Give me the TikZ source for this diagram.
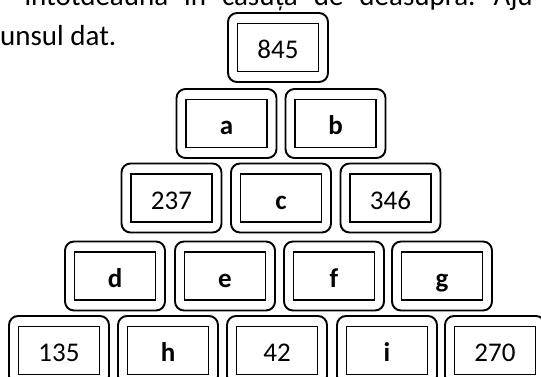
\documentclass[tikz,border=0pt]{standalone}
\usepackage{fontspec}
\setmainfont{Carlito}
\usetikzlibrary{positioning}
\tikzset{
  cell/.style={draw, rectangle, rounded corners=9pt, line width=1.9pt, minimum width=100pt, minimum height=69pt, inner sep=0pt, font=\fontsize{27}{30}\selectfont, text height=24pt, text depth=2pt,
    path picture={\draw[sharp corners, line width=1.9pt] ([shift={(9.5pt,10.5pt)}]path picture bounding box.south west) rectangle ([shift={(-9.5pt,-10.5pt)}]path picture bounding box.north east);}},
  prose/.style={inner sep=0pt, font=\fontsize{29}{35}\selectfont},
}
\begin{document}
\begin{tikzpicture}[x=1pt, y=-1pt]
\useasboundingbox (0,0) rectangle (541,376);
\node (lineone) [prose, anchor=base east] at (533,5) {\spaceskip=16pt\relax întotdeauna în căsuța de deasupra. Aju};
\node (linetwo) [prose, anchor=base west] at (0,45) {unsul dat.};

\node (top) [cell] at (278,47.5) {845};

\node (a) [cell] at (226.5,123.5) {\textbf{a}};
\node (b) [cell, node distance=109pt, right of=a] {\textbf{b}};

\node (left3) [cell] at (171.5,198) {237};
\node (c) [cell, node distance=109.5pt, right of=left3] {\textbf{c}};
\node (right3) [cell, node distance=109.5pt, right of=c] {346};

\node (d) [cell] at (115,276) {\textbf{d}};
\node (e) [cell, node distance=110pt, right of=d] {\textbf{e}};
\node (f) [cell, node distance=109pt, right of=e] {\textbf{f}};
\node (g) [cell, node distance=108pt, right of=f] {\textbf{g}};

\node (left5) [cell] at (59,350.5) {135};
\node (h) [cell, node distance=109pt, right of=left5] {\textbf{h}};
\node (mid5) [cell, node distance=109pt, right of=h] {42};
\node (i) [cell, node distance=110pt, right of=mid5] {\textbf{i}};
\node (right5) [cell, node distance=108pt, right of=i] {270};
\end{tikzpicture}
\end{document}
